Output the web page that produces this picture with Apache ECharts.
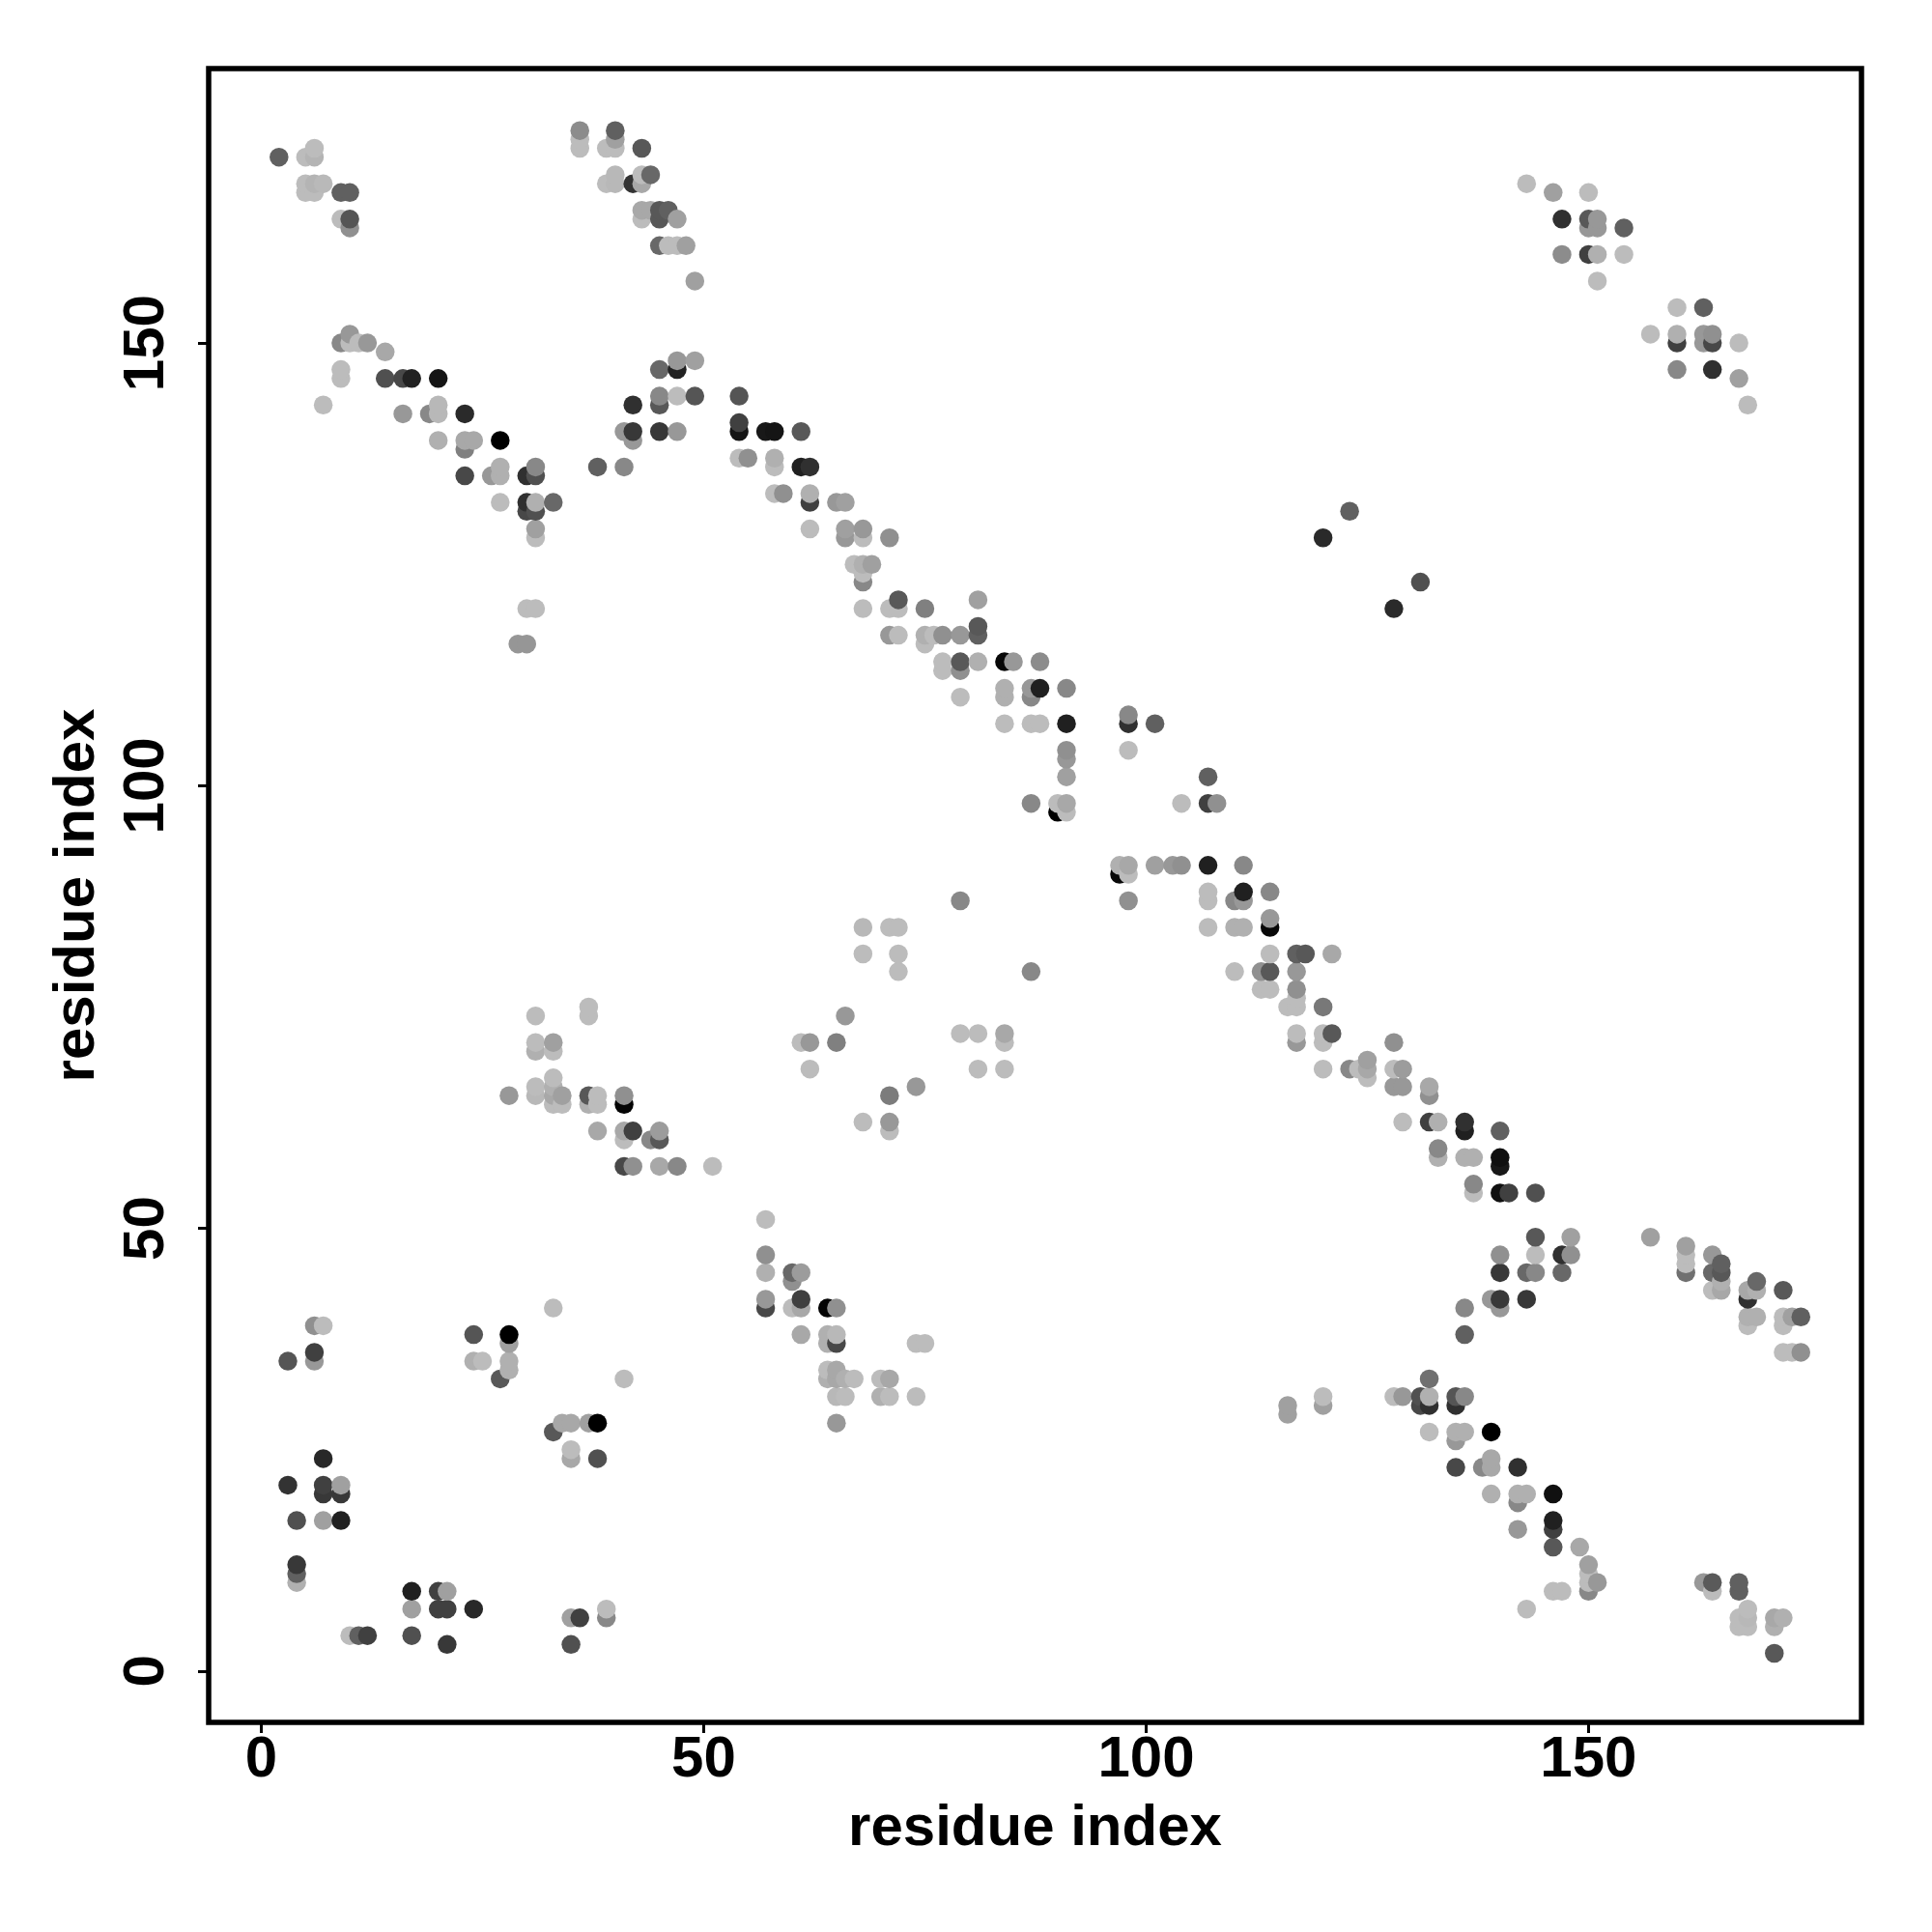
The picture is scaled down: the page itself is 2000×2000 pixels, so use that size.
<!DOCTYPE html>
<html>
<head>
<meta charset="utf-8">
<style>html,body{margin:0;padding:0;background:#fff}#c{width:2000px;height:2000px}</style>
<script src="https://cdn.jsdelivr.net/npm/echarts@6/dist/echarts.min.js"></script>
</head>
<body>
<div id="c"></div>
<script>
const tickValues = [0, 50, 100, 150];
const axisTitle = "residue index";
// each contact: [residue x, residue y, grey level]
const topLeft = [[2,171,96],[5,171,188],[6,171,180],[6,172,188],[5,168,188],[6,168,180],[7,168,185],[5,167,188],[6,167,188],[9,167,96],[10,167,96],[9,164,188],[10,163,144],[10,164,85],
[36,172,188],[36,173,188],[36,174,140],[39,172,188],[40,172,188],[40,173,160],[40,174,96],[43,172,88],[39,168,188],[40,168,184],[40,169,184],[42,168,51],[43,168,168],[43,169,188],[44,169,104],
[43,164,188],[43,165,168],[44,165,168],[45,164,88],[45,165,88],[46,165,96],[47,164,160],[45,161,104],[46,161,188],[47,161,188],[48,161,160],[49,157,160]];
const upperStrand = [[9,150,136],[10,150,188],[10,151,152],[11,150,188],[12,150,152],[14,149,168],[9,146,188],[9,147,188],[14,146,80],[16,146,72],[17,146,34],[20,146,21],[7,143,188],
[16,142,152],[19,142,136],[20,142,184],[20,143,184],[23,142,42],[20,139,176],[23,138,128],[23,139,168],[24,139,168],[27,139,0],[23,135,72],[26,135,152],[27,135,176],[27,136,176],[30,135,48],[31,135,80],[31,136,136],
[27,132,188],[30,131,72],[30,132,48],[31,131,80],[31,132,176],[33,132,104],[31,128,188],[31,129,160],[30,120,188],[31,120,188],[29,116,150],[30,116,150],
[38,136,96],[41,136,136],[41,140,152],[42,139,152],[42,140,56],[42,143,48],[45,140,56],[47,140,152],[45,143,88],[45,144,136],[47,144,188],[49,144,85],[45,147,104],[47,147,34],[47,148,152],[49,148,160]];
const mainDiagonalA = [[54,144,85],[54,140,21],[54,141,64],[57,140,24],[58,140,21],[61,140,88],[54,137,188],[55,137,144],[58,136,188],[58,137,176],[61,136,32],[62,136,48],
[58,133,188],[59,133,144],[62,132,64],[62,133,176],[65,132,152],[66,132,160],[62,129,188],[66,128,152],[66,129,160],[68,128,188],[68,129,152],[71,128,144],
[67,125,188],[68,123,136],[68,124,188],[68,125,176],[69,125,160],[68,120,188],[71,120,188],[72,120,188],[72,121,88],[75,120,128],[81,121,160],
[71,117,152],[72,117,188],[75,116,188],[75,117,176],[76,117,188],[77,117,144],[79,117,152],[81,117,96],[81,118,88],[77,113,188],[77,114,188],[79,113,144],[79,114,88],[81,114,176],[84,114,8],[85,114,152],[88,114,140],
[79,110,188],[84,110,176],[84,111,176],[87,110,136],[87,111,152],[88,111,32],[91,111,136],[84,107,188],[87,107,188],[88,107,188],[91,107,32],[98,107,48],[98,108,136],[101,107,96],
[91,101,160],[91,103,152],[91,104,144],[98,104,188],[87,98,136],[90,97,0],[90,98,188],[91,97,188],[91,98,168],[104,98,188],[107,98,64],[107,101,96],[108,98,144]];
const mainDiagonalB = [[97,90,8],[97,91,176],[98,87,144],[98,90,188],[98,91,168],[101,91,160],[103,91,152],[104,91,144],[107,91,32],[111,91,136],[107,87,188],[107,88,188],[110,87,136],[111,87,152],[111,88,32],[114,88,136],
[107,84,188],[110,84,176],[111,84,176],[114,84,8],[114,85,152],[114,81,188],[117,81,96],[118,81,88],[121,81,168],[110,79,188],[113,79,144],[114,79,88],[117,79,152],[113,77,188],[114,77,188],[117,77,144],[116,75,188],[117,75,188],[117,76,188],[120,75,120],
[117,71,152],[117,72,188],[120,71,188],[120,72,188],[121,72,88],[128,71,144],[120,68,188],[123,68,136],[124,68,188],[125,67,188],[125,68,168],[125,69,160],[128,68,188],[129,68,156],[128,66,152],[129,66,152],[132,65,144],[132,66,168],
[129,62,188],[132,62,64],[133,62,176],[136,61,32],[136,62,48],[140,61,96],[133,58,176],[133,59,136],[136,58,176],[137,58,176],[140,57,24],[140,58,16],[137,54,188],[137,55,136],[140,54,16],[141,54,64],[144,54,80]];
const offDiagonal = [[120,128,42],[123,131,96],[128,120,42],[131,123,80],[79,87,136],[87,79,136],[68,84,184],[71,84,188],[72,84,188],[68,81,188],[72,81,188],[72,79,188],[66,74,152],[61,71,188],[62,71,152],[65,71,128],[62,68,188],[74,66,152],[71,65,124],[68,62,188],[71,61,188],[71,62,152],
[79,72,188],[81,72,188],[84,71,188],[84,72,168],[81,68,188],[84,68,188],
[31,74,188],[37,74,188],[37,75,188],[31,70,176],[31,71,188],[33,70,188],[33,71,160],[31,65,184],[31,66,188],[33,64,188],[33,65,168],[33,66,176],[33,67,188],[34,64,188],[34,65,160],[28,65,152],
[37,64,176],[37,65,88],[38,64,188],[38,65,188],[41,64,4],[41,65,144],[38,61,168],[41,60,188],[41,61,168],[42,61,64],[44,60,136],[45,60,88],[45,61,156],[41,57,72],[42,57,144],[45,57,168],[47,57,136],[51,57,188]];
const lowerMiddle = [[57,51,188],[57,47,144],[57,45,176],[60,44,144],[60,45,104],[61,45,156],[57,41,72],[57,42,152],[60,41,188],[61,41,168],[61,42,64],[64,41,4],[65,41,144],
[61,38,168],[64,37,176],[64,38,176],[65,37,72],[65,38,184],[74,37,188],[75,37,188],[64,33,176],[64,34,188],[65,33,168],[65,34,168],[66,33,176],[67,33,188],[70,33,188],[71,33,168],[65,31,184],[66,31,188],[70,31,176],[71,31,188],[74,31,188],[65,28,152]];
const lowerLeft = [[6,39,144],[7,39,188],[3,35,85],[6,35,152],[6,36,64],[24,38,85],[28,37,160],[28,38,0],[24,35,176],[25,35,188],[28,34,176],[28,35,176],[27,33,88],[33,41,188],[41,33,188],
[33,27,88],[34,28,168],[35,28,168],[37,28,160],[38,28,0],[35,24,168],[35,25,188],[38,24,80],[7,24,40],[3,21,51],[7,20,56],[7,21,64],[9,20,56],[9,21,160],[4,17,80],[7,17,160],[9,17,32],
[4,10,176],[4,11,96],[4,12,56],[17,9,32],[20,9,64],[21,9,160],[17,7,160],[20,7,64],[21,7,64],[24,7,40],[10,4,188],[11,4,96],[12,4,64],[17,4,80],[21,3,56],[35,6,160],[36,6,64],[39,6,136],[39,7,188],[35,3,80]];
const lowerRight = [[144,49,88],[148,49,160],[157,49,160],[140,47,144],[144,47,188],[147,47,48],[148,47,144],[140,45,56],[143,45,104],[144,45,136],[147,45,104],[139,42,152],[140,41,152],[140,42,56],[143,42,56],[136,41,136],[136,38,96],
[132,33,112],[128,31,188],[129,31,152],[131,30,72],[131,31,80],[132,30,48],[132,31,176],[135,30,48],[135,31,85],[136,31,136],[116,29,160],[116,30,160],[120,30,160],[120,31,188],
[132,27,188],[135,26,152],[135,27,176],[136,27,176],[139,27,0],[135,23,72],[138,23,136],[139,23,168],[139,24,168],[142,23,48],[139,20,176],[142,19,136],[142,20,176],[143,20,176],[146,20,16],[142,16,152],[146,16,64],[146,17,32],[146,14,88],[149,14,168],
[150,9,136],[150,10,188],[150,11,188],[150,12,160],[151,10,152],[146,9,188],[147,9,188],[143,7,188],[163,10,152],[164,9,188],[164,10,90],[167,9,96],[167,10,96],[167,5,188],[167,6,188],[168,5,188],[168,6,184],[168,7,188],[171,5,176],[171,6,168],[172,6,176],[171,2,88],
[161,45,112],[161,46,188],[161,47,188],[161,48,160],[164,43,188],[164,45,104],[164,47,152],[165,43,168],[165,44,176],[165,45,88],[165,46,96],[168,42,48],[168,43,168],[169,43,176],[169,44,104],[172,43,88],[168,39,188],[168,40,176],[169,40,176],[172,39,188],[172,40,188],[173,40,160],[174,40,96],[172,36,188],[173,36,188],[174,36,144]];
const topRight = [[143,168,188],[146,167,160],[150,167,188],[147,164,48],[150,163,152],[150,164,88],[151,163,152],[151,164,152],[154,163,96],[147,160,140],[150,160,64],[151,160,176],[154,160,188],[151,157,188],
[160,154,188],[163,154,96],[157,151,188],[160,150,64],[160,151,176],[163,150,152],[163,151,152],[164,150,72],[164,151,144],[167,150,188],[160,147,136],[164,147,48],[167,146,160],[168,143,188]];

const contacts = [].concat(topLeft, upperStrand, mainDiagonalA, mainDiagonalB, offDiagonal, lowerMiddle, lowerLeft, lowerRight, topRight)
  .sort((a, b) => a[0] - b[0] || a[1] - b[1]);

const font = '"Liberation Sans", Arial, sans-serif';
const axisCommon = {
  type: 'value', name: axisTitle, nameLocation: 'middle',
  nameTextStyle: { fontFamily: font, fontWeight: 'bold', fontSize: 60, color: '#000' },
  axisLine: { show: false, onZero: false },
  splitLine: { show: false },
  axisTick: { show: true, length: 11, customValues: tickValues, lineStyle: { color: '#000', width: 3 } }
};
const labelCommon = { customValues: tickValues, fontFamily: font, fontWeight: 'bold', fontSize: 60, color: '#000' };

const chart = echarts.init(document.getElementById('c'), null, { renderer: 'canvas' });
chart.setOption({
  animation: false,
  backgroundColor: '#fff',
  grid: { left: 216, top: 71, width: 1711, height: 1712, show: true, borderColor: '#000', borderWidth: 5.5, backgroundColor: 'transparent' },
  xAxis: Object.assign({}, axisCommon, { min: -5.95, max: 180.85, nameGap: 80, axisLabel: Object.assign({}, labelCommon, { margin: 9 }) }),
  yAxis: Object.assign({}, axisCommon, { min: -5.8, max: 181, nameGap: 106, nameRotate: 90, axisLabel: Object.assign({}, labelCommon, { rotate: 90, margin: 34, align: 'center', verticalAlign: 'bottom' }) }),
  visualMap: { show: false, type: 'continuous', dimension: 2, min: 0, max: 188, inRange: { color: ['#000000', '#bcbcbc'] } },
  series: [{ type: 'scatter', data: contacts, symbol: 'circle', symbolSize: 19.5, itemStyle: { opacity: 1 }, emphasis: { disabled: true } }]
});
</script>
</body>
</html>
